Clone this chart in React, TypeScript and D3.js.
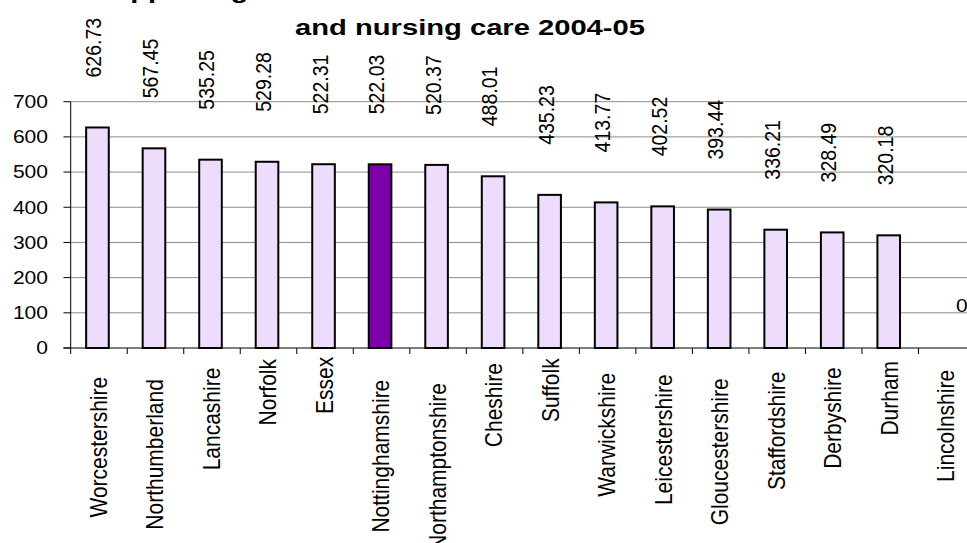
import React, { useEffect, useRef } from "react";
import * as d3 from "d3";

// Weekly cost per county, highest first
const categories = [
  "Worcestershire",
  "Northumberland",
  "Lancashire",
  "Norfolk",
  "Essex",
  "Nottinghamshire",
  "Northamptonshire",
  "Cheshire",
  "Suffolk",
  "Warwickshire",
  "Leicestershire",
  "Gloucestershire",
  "Staffordshire",
  "Derbyshire",
  "Durham",
  "Lincolnshire",
];
const values = [
  626.73, 567.45, 535.25, 529.28, 522.31, 522.03, 520.37, 488.01, 435.23,
  413.77, 402.52, 393.44, 336.21, 328.49, 320.18, 0,
];
const highlighted = "Nottinghamshire";
const yTicks = [0, 100, 200, 300, 400, 500, 600, 700];
const titleLines = [
  "Supporting older adults in residential",
  "and nursing care 2004-05",
];

const W = 967;
const H = 543;
const FONT = "Arial, 'Liberation Sans', Helvetica, sans-serif";
const SX = 1.17; // horizontal glyph stretch used throughout the chart text
const TITLE_SX = 1.325;

export default function App() {
  const ref = useRef<SVGSVGElement | null>(null);

  useEffect(() => {
    const svg = d3.select(ref.current);
    svg.selectAll("*").remove();

    const x = d3
      .scaleBand<string>()
      .domain(categories)
      .range([70.7, 975])
      .paddingInner(0)
      .paddingOuter(0);
    const y = d3.scaleLinear().domain([0, 700]).range([348, 101.7]);
    const bw = x.bandwidth();
    const barW = bw * 0.4;
    const barCenter = (c: string) => (x(c) as number) + bw / 2 - 1.5;

    // Horizontal gridlines
    svg
      .append("g")
      .selectAll("line")
      .data(yTicks.filter((t) => t > 0))
      .join("line")
      .attr("x1", 70.7)
      .attr("x2", W)
      .attr("y1", (d) => y(d))
      .attr("y2", (d) => y(d))
      .attr("stroke", "#8c8c8c")
      .attr("stroke-width", 1);

    // Y axis, ticks and labels
    const yAxis = svg.append("g");
    yAxis
      .append("line")
      .attr("x1", 70.7)
      .attr("x2", 70.7)
      .attr("y1", y(700))
      .attr("y2", y(0))
      .attr("stroke", "#000")
      .attr("stroke-width", 1);
    yAxis
      .selectAll("line.tick")
      .data(yTicks)
      .join("line")
      .attr("class", "tick")
      .attr("x1", 63.5)
      .attr("x2", 70.7)
      .attr("y1", (d) => y(d))
      .attr("y2", (d) => y(d))
      .attr("stroke", "#000");
    yAxis
      .selectAll("text")
      .data(yTicks)
      .join("text")
      .attr("transform", (d) => `translate(48,${y(d)}) scale(${SX},1)`)
      .attr("text-anchor", "end")
      .attr("dy", "0.35em")
      .attr("font-family", FONT)
      .attr("font-size", 18)
      .attr("fill", "#000")
      .text((d) => d);

    // Bars
    svg
      .append("g")
      .selectAll("rect")
      .data(categories.filter((_, i) => values[i] > 0))
      .join("rect")
      .attr("x", (c) => barCenter(c) - barW / 2)
      .attr("width", barW)
      .attr("y", (c) => y(values[categories.indexOf(c)]))
      .attr("height", (c) => y(0) - y(values[categories.indexOf(c)]))
      .attr("fill", (c) => (c === highlighted ? "#7d00a8" : "#eddcfc"))
      .attr("stroke", "#000")
      .attr("stroke-width", 2);

    // X axis line and band ticks
    const xAxis = svg.append("g");
    xAxis
      .append("line")
      .attr("x1", 63.5)
      .attr("x2", W)
      .attr("y1", y(0))
      .attr("y2", y(0))
      .attr("stroke", "#000");
    xAxis
      .selectAll("line.tick")
      .data(categories)
      .join("line")
      .attr("class", "tick")
      .attr("x1", (c) => x(c) as number)
      .attr("x2", (c) => x(c) as number)
      .attr("y1", y(0))
      .attr("y2", y(0) + 6)
      .attr("stroke", "#000");

    // Category labels, rotated
    const catLabels = xAxis
      .selectAll("text")
      .data(categories)
      .join("text")
      .attr("text-anchor", "end")
      .attr("dy", "0.35em")
      .attr("font-family", FONT)
      .attr("font-size", 21)
      .attr("fill", "#000")
      .text((c) => c);
    catLabels.each(function (c) {
      const el = this as SVGTextElement;
      const len = el.getComputedTextLength();
      const top = 343 + 0.24 * len;
      el.setAttribute(
        "transform",
        `translate(${barCenter(c) + 0.5},${top}) scale(${SX},1) rotate(-90)`
      );
    });

    // Value labels above bars
    const labels = svg.append("g");
    categories.forEach((c, i) => {
      const v = values[i];
      if (v > 0) {
        labels
          .append("text")
          .attr(
            "transform",
            `translate(${barCenter(c) - 4},${y(v) - 50}) scale(${SX},1) rotate(-90)`
          )
          .attr("text-anchor", "start")
          .attr("dy", "0.35em")
          .attr("font-family", FONT)
          .attr("font-size", 19.5)
          .attr("fill", "#000")
          .text(d3.format(".2f")(v));
      } else {
        labels
          .append("text")
          .attr(
            "transform",
            `translate(${barCenter(c) + 10.7},${y(v) - 36.5}) scale(${SX},1)`
          )
          .attr("font-family", FONT)
          .attr("font-size", 18)
          .attr("fill", "#000")
          .text(String(v));
      }
    });

    // Title
    const title = svg.append("g");
    title
      .append("text")
      .attr("transform", `translate(93,-2) scale(${TITLE_SX},1)`)
      .attr("text-anchor", "start")
      .attr("font-family", FONT)
      .attr("font-weight", "bold")
      .attr("font-size", 22)
      .attr("fill", "#000")
      .text(titleLines[0]);
    title
      .append("text")
      .attr("transform", `translate(470,35) scale(${TITLE_SX},1)`)
      .attr("text-anchor", "middle")
      .attr("font-family", FONT)
      .attr("font-weight", "bold")
      .attr("font-size", 22)
      .attr("fill", "#000")
      .text(titleLines[1]);
  }, []);

  return (
    <svg
      ref={ref}
      width={W}
      height={H}
      style={{ position: "absolute", left: 0, top: 0, background: "#fff" }}
    />
  );
}
